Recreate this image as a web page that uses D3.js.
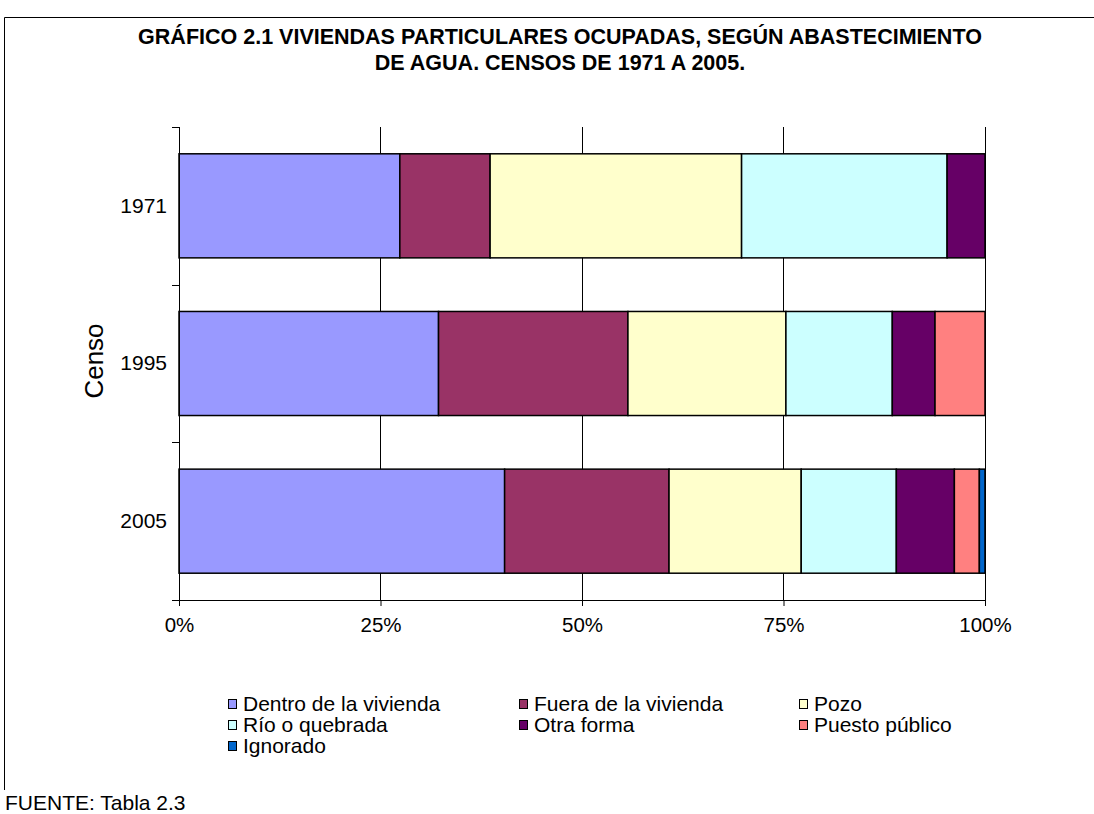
<!DOCTYPE html>
<html><head><meta charset="utf-8">
<script src="https://cdn.jsdelivr.net/npm/d3@7"></script>
<style>body{margin:0;background:#fff}svg{display:block}text{font-family:"Liberation Sans",Arial,sans-serif}</style>
</head><body>
<svg id="c" width="1094" height="814"></svg>
<script>
const categories = ["1971","1995","2005"];
const seriesNames = ["Dentro de la vivienda","Fuera de la vivienda","Pozo","Río o quebrada","Otra forma","Puesto público","Ignorado"];
const seriesColors = ["#9999FF","#993366","#FFFFCC","#CCFFFF","#660066","#FF8080","#0066CC"];
const dentro   = [27.4, 32.2, 40.4];
const fuera    = [11.2, 23.5, 20.4];
const pozo     = [31.2, 19.6, 16.4];
const rio      = [25.5, 13.2, 11.8];
const otra     = [4.7, 5.3, 7.2];
const puesto   = [0.0, 6.2, 3.1];
const ignorado = [0.0, 0.0, 0.7];
const xTicks = [0, 25, 50, 75, 100];
const xTickLabels = ["0%","25%","50%","75%","100%"];
const title = ["GRÁFICO 2.1 VIVIENDAS PARTICULARES OCUPADAS, SEGÚN ABASTECIMIENTO","DE AGUA. CENSOS DE 1971 A 2005."];

const seriesVals = [dentro, fuera, pozo, rio, otra, puesto, ignorado];
const rows = categories.map((c,i)=>{const r={cat:c}; seriesNames.forEach((s,j)=>r[s]=seriesVals[j][i]); return r;});
const stack = d3.stack().keys(seriesNames).offset(d3.stackOffsetExpand)(rows);

const svg = d3.select("#c");
const L=179, R=985, T=127, B=600;
const x = d3.scaleLinear().domain([0,1]).range([L,R]);
const y = d3.scaleBand().domain(categories).range([T,B]).paddingInner(0.34).paddingOuter(0.17);

// frame
svg.append("path").attr("d","M4.5,790 V17.5 H1094").attr("fill","none").attr("stroke","#000").attr("stroke-width",1);

// title
svg.append("g").selectAll("text").data(title).join("text")
  .attr("x",560).attr("y",(d,i)=>44+i*26).attr("text-anchor","middle")
  .attr("font-size",21.5).attr("font-weight","bold").text(d=>d);

// gridlines
svg.append("g").selectAll("line").data(xTicks.slice(1)).join("line")
  .attr("x1",d=>x(d/100)).attr("x2",d=>x(d/100)).attr("y1",T).attr("y2",B)
  .attr("stroke","#000").attr("stroke-width",1).attr("shape-rendering","crispEdges");

// bars
svg.append("g").selectAll("g").data(stack).join("g")
  .attr("fill",(d,i)=>seriesColors[i])
  .selectAll("rect").data(d=>d).join("rect")
  .attr("x",d=>x(d[0])).attr("width",d=>Math.max(0,x(d[1])-x(d[0])))
  .attr("y",d=>y(d.data.cat)).attr("height",y.bandwidth())
  .attr("stroke",d=>(d[1]-d[0])>0?"#000":"none").attr("stroke-width",1.5);

// x axis
const xa = d3.axisBottom(d3.scaleLinear().domain([0,100]).range([L,R])).tickValues(xTicks)
  .tickFormat((d,i)=>xTickLabels[i]).tickSize(6).tickPadding(11).tickSizeOuter(0);
const gx = svg.append("g").attr("transform",`translate(0,${B})`).call(xa);
gx.select(".domain").attr("d",`M172,0.5H${R}`);
gx.selectAll("text").attr("font-size",20.5).attr("fill","#000").attr("font-family","Liberation Sans, Arial, sans-serif");
gx.selectAll("line").attr("stroke","#000");

// y axis
const ya = d3.axisLeft(y).tickSize(0).tickPadding(12);
const gy = svg.append("g").attr("transform",`translate(${L},0)`).call(ya);
gy.select(".domain").attr("d",`M0.5,${T}V${B}`);
gy.selectAll("text").attr("font-size",21).attr("fill","#000").attr("font-family","Liberation Sans, Arial, sans-serif");
const bounds = [T, ...categories.slice(1).map(c=>y(c)-y.step()*y.paddingInner()/2), B];
svg.append("g").selectAll("line").data(bounds).join("line")
  .attr("x1",172).attr("x2",L).attr("y1",d=>Math.round(d)+0.5).attr("y2",d=>Math.round(d)+0.5).attr("stroke","#000");

// y axis title
svg.append("text").attr("transform","translate(103,361) rotate(-90)").attr("text-anchor","middle")
  .attr("font-size",26).text("Censo");

// legend
const lg = svg.append("g");
const colX=[228,519,799], rowY=[704,725,746];
seriesNames.forEach((s,i)=>{
  const cx=colX[i%3], cy=rowY[Math.floor(i/3)];
  lg.append("rect").attr("x",cx+0.5).attr("y",cy-4.5).attr("width",8).attr("height",9)
    .attr("fill",seriesColors[i]).attr("stroke","#000").attr("stroke-width",1);
  lg.append("text").attr("x",cx+15).attr("y",cy+7).attr("font-size",21).text(s);
});

// source
svg.append("text").attr("x",5).attr("y",810).attr("font-size",21).text("FUENTE: Tabla 2.3");
</script>
</body></html>
